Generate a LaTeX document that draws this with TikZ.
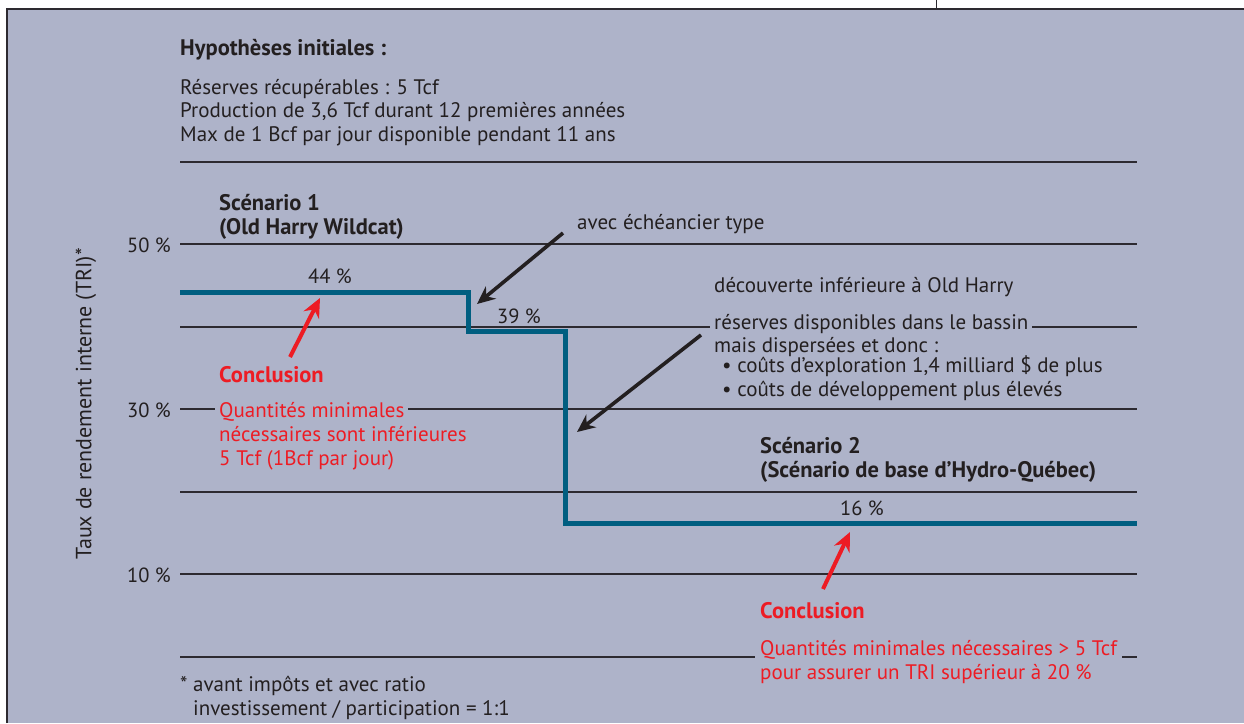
\documentclass[tikz,border=0pt]{standalone}
\usepackage{fontspec}
\setmainfont{PT Sans}
\usetikzlibrary{arrows.meta}
\definecolor{bg}{RGB}{174,179,201}
\definecolor{txt}{RGB}{35,31,32}
\definecolor{stepblue}{RGB}{0,94,128}
\definecolor{concred}{RGB}{237,28,36}
\definecolor{gridc}{RGB}{45,42,48}
\tikzset{
  lbl/.style={anchor=base west,inner sep=0pt,text=txt,font=\fontsize{21}{23.5}\selectfont,align=left},
  bold/.style={lbl,font=\fontsize{22.5}{23.5}\selectfont\bfseries},
  redtxt/.style={lbl,text=concred},
  redbold/.style={bold,text=concred},
  pct/.style={anchor=base,inner sep=0pt,text=txt,font=\fontsize{20.5}{23.5}\selectfont},
  axlbl/.style={anchor=base east,inner sep=0pt,text=txt,font=\fontsize{20.5}{23.5}\selectfont},
  gap/.style={fill=bg,inner xsep=4pt,inner ysep=1pt},
  gridline/.style={draw=gridc,line width=1.3pt},
  stepline/.style={draw=stepblue,line width=5pt},
  blackarrow/.style={draw=txt,line width=3.6pt,-{Stealth[length=18pt,width=16pt]}},
  redarrow/.style={draw=concred,line width=4pt,-{Stealth[length=19pt,width=17pt]}}
}
\begin{document}
\begin{tikzpicture}[x=1pt,y=-1pt]
\useasboundingbox (0,0) rectangle (1244,723);
\fill[white] (0,0) rectangle (1244,723);
\fill[bg] (7,9) rectangle (1244,723);
\draw[gridc,line width=1.4pt] (7,723) -- (7,9) -- (1244,9);
\draw[gridc,line width=1pt] (936,0) -- (936,9);
% hypotheses
\node[bold] (hyp) at (180,55) {Hypothèses initiales :};
\node[lbl] (hyptxt) at (180,141) {Réserves récupérables : 5 Tcf\\Production de 3,6 Tcf durant 12 premières années\\Max de 1 Bcf par jour disponible pendant 11 ans};
% grid lines
\draw[gridline] (180,162) -- (1137,162);
\draw[gridline] (180,244) -- (1137,244);
\draw[gridline] (180,327) -- (1137,327);
\draw[gridline] (180,409) -- (1137,409);
\draw[gridline] (180,492) -- (1137,492);
\draw[gridline] (180,574) -- (1137,574);
\draw[gridline] (180,657) -- (1137,657);
% axis
\node[axlbl] (a50) at (171,252) {50 \%};
\node[axlbl] (a30) at (171,417) {30 \%};
\node[axlbl] (a10) at (171,582) {10 \%};
\node[inner sep=0pt,text=txt,font=\fontsize{22}{23.5}\selectfont,rotate=90] (yl) at (86,404) {Taux de rendement interne (TRI)*};
% step line
\draw[stepline] (180,292) -- (468,292) -- (468,331) -- (565,331) -- (565,523) -- (1137,523);
% scenario labels
\node[bold] (sc1) at (219,234) {Scénario 1\\(Old Harry Wildcat)};
\node[bold] (sc2) at (760,477) {Scénario 2\\(Scénario de base d’Hydro-Québec)};
\node[pct] (p44) at (330,283) {44 \%};
\node[pct] (p39) at (519,323) {39 \%};
\node[pct] (p16) at (862,515) {16 \%};
% annotations
\node[lbl] (ech) at (577,229) {avec échéancier type};
\node[lbl] (dec) at (714,292) {découverte inférieure à Old Harry};
\node[lbl,gap] (res) at (710,329) {réserves disponibles dans le bassin};
\node[lbl] (mais) at (714,352) {mais dispersées et donc :};
\node[lbl] (cout) at (722,396) {• coûts d’exploration 1,4 milliard \$ de plus\\• coûts de développement plus élevés};
% conclusions
\node[redbold] (c1) at (219,382) {Conclusion};
\node[redtxt,gap] (q1a) at (215,417) {Quantités minimales};
\node[redtxt] (q1b) at (219,465) {nécessaires sont inférieures\\5 Tcf (1Bcf par jour)};
\node[redbold] (c2) at (760,618) {Conclusion};
\node[redtxt,gap,inner xsep=5pt] (q2a) at (755,655) {Quantités minimales nécessaires > 5 Tcf};
\node[redtxt] (q2b) at (760,679) {pour assurer un TRI supérieur à 20 \%};
% footnote
\node[lbl] (fn) at (180,715) {* avant impôts et avec ratio\\\hphantom{* }investissement / participation = 1:1};
% arrows
\coordinate (t1) at (477,304);
\coordinate (s1) at (563,233);
\coordinate (t2) at (577,432);
\coordinate (s2) at (701,335);
\coordinate (t3) at (320,298);
\coordinate (s3) at (290,357);
\coordinate (t4) at (850,532);
\coordinate (s4) at (823,589);
\draw[blackarrow] (s1) -- (t1);
\draw[blackarrow] (s2) -- (t2);
\draw[redarrow] (s3) -- (t3);
\draw[redarrow] (s4) -- (t4);
\end{tikzpicture}
\end{document}
